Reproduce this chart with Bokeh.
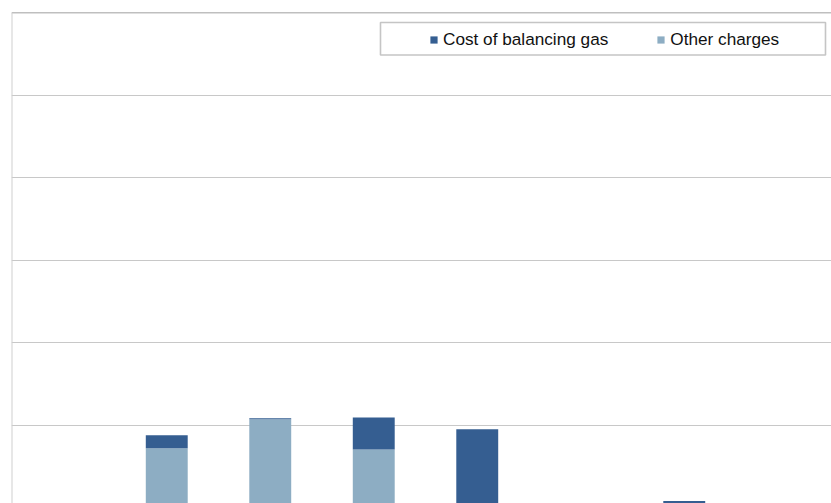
from bokeh.plotting import figure
from bokeh.models import ColumnDataSource, Legend, LegendItem, Span, BoxAnnotation, FixedTicker
from bokeh.embed import file_html
from bokeh.resources import INLINE

# Stacked charges per period (units of one gridline step)
categories = ["1", "2", "3", "4", "5", "6", "7", "8"]
balancing_gas = [0.0, 0.157, 0.012, 0.387, 0.954, 0.0, 0.085, 0.0]
other_charges = [0.0, 0.725, 1.075, 0.710, 0.0, 0.0, 0.0, 0.0]
grid_values = [1, 2, 3, 4, 5]

DARK = "#355E91"
LIGHT = "#8DADC3"

W, H = 831, 503
LEFT, TOP = 11, 12
CAT_PX = 103.5          # pixel width of one category slot
UNIT_PX = 82.6          # pixel height of one gridline step
Y_TOP = 6.0

x_end = (W - LEFT) / CAT_PX
y_start = Y_TOP - (H - TOP) / UNIT_PX

xs = [i + 0.5 for i in range(len(categories))]
source = ColumnDataSource(dict(
    x=xs,
    cat=categories,
    other=other_charges,
    balancing=balancing_gas,
    stack_top=[o + b for o, b in zip(other_charges, balancing_gas)],
    zero=[0.0] * len(categories),
))

p = figure(width=W, height=H, x_range=(0, x_end), y_range=(y_start, Y_TOP),
           output_backend="svg", toolbar_location=None,
           min_border_left=LEFT, min_border_top=TOP,
           min_border_right=0, min_border_bottom=0)
p.xaxis.visible = False
p.yaxis.visible = False
p.outline_line_color = None
p.background_fill_color = "white"
p.border_fill_color = "white"
p.xgrid.visible = False
p.ygrid.ticker = FixedTicker(ticks=grid_values)
p.ygrid.grid_line_color = "#C8C8C8"
p.ygrid.grid_line_width = 1

r_other = p.vbar(x="x", width=0.405, bottom="zero", top="other", source=source,
                 fill_color=LIGHT, line_color=None)
r_bal = p.vbar(x="x", width=0.405, bottom="other", top="stack_top", source=source,
               fill_color=DARK, line_color=None)

# Plot-area frame: darker top edge, light left edge
p.add_layout(Span(location=Y_TOP, dimension="width", line_color="#808080", line_width=1.3))
p.add_layout(Span(location=0, dimension="height", line_color="#CFCFCF", line_width=2))

# Legend frame
def px_to_x(px):
    return (px - LEFT) / CAT_PX

def py_to_y(py):
    return Y_TOP - (py - TOP) / UNIT_PX

p.add_layout(BoxAnnotation(left=px_to_x(380), right=px_to_x(825),
                           top=py_to_y(22), bottom=py_to_y(54.5),
                           fill_color="white", fill_alpha=1.0,
                           line_color="#404040", line_width=1.6, level="overlay"))

legend = Legend(items=[LegendItem(label="Cost of balancing gas", renderers=[r_bal]),
                       LegendItem(label="Other charges", renderers=[r_other])],
                orientation="horizontal",
                location=(429 - LEFT, H - 50),
                padding=0, margin=0, spacing=48,
                glyph_width=9, glyph_height=9, label_standoff=5,
                label_text_font="Liberation Sans", label_text_font_size="17.2px",
                label_text_color="#111111",
                border_line_color=None, background_fill_alpha=0.0)
p.add_layout(legend)

open("out.html", "w").write(file_html(p, INLINE))
